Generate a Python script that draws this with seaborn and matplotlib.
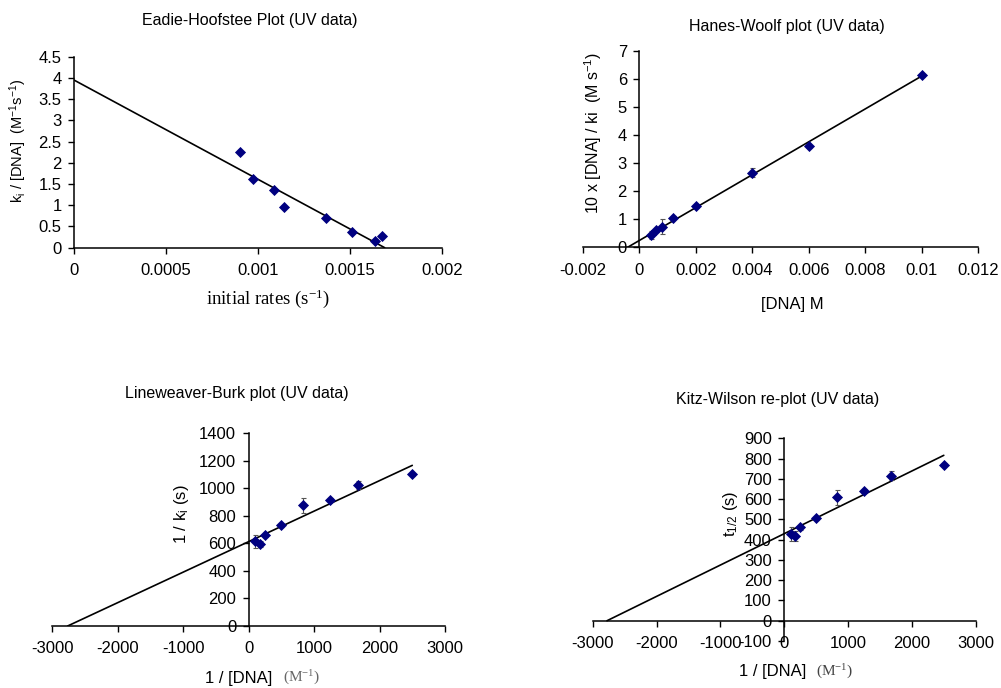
import numpy as np
import pandas as pd
import matplotlib
matplotlib.use("Agg")
import matplotlib.pyplot as plt
import seaborn as sns
from matplotlib.ticker import FuncFormatter, MultipleLocator

# ---------------- data ----------------
# Eadie-Hofstee
eh_rate = [0.000903, 0.000972, 0.001088, 0.001140, 0.001369, 0.001510, 0.001636, 0.001675]
eh_ratio = [2.26, 1.62, 1.36, 0.95, 0.69, 0.37, 0.165, 0.275]
eh_trend_x = [0.0, 0.00169]
eh_trend_y = [3.95, 0.0]

# Hanes-Woolf
hw_dna = [0.0004, 0.0006, 0.0008, 0.0012, 0.002, 0.004, 0.006, 0.01]
hw_val = [0.44, 0.62, 0.73, 1.06, 1.47, 2.66, 3.59, 6.12]
hw_err = [0.15, 0.06, 0.26, 0.06, 0.08, 0.15, 0.06, 0.05]
hw_trend_x = [-0.00042, 0.01]
hw_trend_y = [0.0, 6.1]

# Lineweaver-Burk
lb_inv = [2500, 1667, 1250, 833, 500, 250, 167, 100]
lb_val = [1102, 1024, 918, 877, 731, 664, 596, 615]
lb_err = [10, 30, 15, 54, 12, 15, 25, 48]
lb_trend_x = [-2766, 2500]
lb_trend_y = [0, 1167]

# Kitz-Wilson
kw_inv = [2500, 1667, 1250, 833, 500, 250, 167, 100]
kw_val = [770, 715, 638, 608, 508, 460, 419, 428]
kw_err = [8, 22, 10, 37, 10, 10, 25, 36]
kw_trend_x = [-2776, 2500]
kw_trend_y = [0, 816]

# ---------------- style ----------------
sns.set_style("ticks")
plt.rcParams["font.family"] = ["Liberation Sans", "DejaVu Sans"]
plt.rcParams["mathtext.default"] = "regular"
plt.rcParams["axes.linewidth"] = 1.0

W, H = 1001, 688
fig = plt.figure(figsize=(W / 100, H / 100), dpi=100)
fig.patch.set_facecolor("white")

MARK = "#000080"
ERRC = "#555555"
fmt = FuncFormatter(lambda v, p: f"{v:g}")


def px(x, y):
    return x / W, 1 - y / H


def make_ax(l, r, b, t):
    # pixel coords -> fig fractions
    return fig.add_axes([l / W, 1 - b / H, (r - l) / W, (b - t) / H])


def style(ax, xlim, ylim, xstep, ystep):
    ax.set_xlim(*xlim)
    ax.set_ylim(*ylim)
    ax.xaxis.set_major_locator(MultipleLocator(xstep))
    ax.yaxis.set_major_locator(MultipleLocator(ystep))
    ax.xaxis.set_major_formatter(fmt)
    ax.yaxis.set_major_formatter(fmt)
    ax.spines["top"].set_visible(False)
    ax.spines["right"].set_visible(False)
    ax.spines["left"].set_position(("data", 0))
    ax.spines["bottom"].set_position(("data", 0))
    for s in ("left", "bottom"):
        ax.spines[s].set_color("black")
        ax.spines[s].set_linewidth(1.1)
    ax.tick_params(axis="x", direction="out", length=4, width=1, pad=7,
                   labelsize=12, colors="black")
    ax.tick_params(axis="y", direction="out", length=4, width=1, pad=5,
                   labelsize=12, colors="black")
    ax.set_facecolor("none")
    ax.set_xlabel("")
    ax.set_ylabel("")


def draw(ax, x, y, tx, ty, err=None):
    sns.lineplot(x=tx, y=ty, ax=ax, color="black", linewidth=1.2,
                 estimator=None, sort=False, zorder=2)
    if err is not None:
        ax.errorbar(x, y, yerr=err, fmt="none", ecolor=ERRC, elinewidth=0.8,
                    capsize=1.8, capthick=0.8, zorder=3)
    sns.scatterplot(x=x, y=y, ax=ax, marker="D", s=32, color=MARK,
                    edgecolor=MARK, linewidth=0, zorder=4)


# Panel 1: Eadie-Hofstee
ax1 = make_ax(74, 441.7, 247.7, 56.7)
draw(ax1, eh_rate, eh_ratio, eh_trend_x, eh_trend_y)
style(ax1, (0, 0.002), (0, 4.5), 0.0005, 0.5)

# Panel 2: Hanes-Woolf
ax2 = make_ax(583, 978.3, 247.3, 50.7)
draw(ax2, hw_dna, hw_val, hw_trend_x, hw_trend_y, hw_err)
style(ax2, (-0.002, 0.012), (0, 7), 0.002, 1)

# Panel 3: Lineweaver-Burk
ax3 = make_ax(52.3, 445, 626, 433.3)
draw(ax3, lb_inv, lb_val, lb_trend_x, lb_trend_y, lb_err)
style(ax3, (-3000, 3000), (0, 1400), 1000, 200)

# Panel 4: Kitz-Wilson
ax4 = make_ax(592.7, 975.7, 641, 438.3)
draw(ax4, kw_inv, kw_val, kw_trend_x, kw_trend_y, kw_err)
style(ax4, (-3000, 3000), (-100, 900), 1000, 100)

# ---------------- titles & labels ----------------
SANS = ["Liberation Sans", "DejaVu Sans"]
SERIF = ["Liberation Serif", "DejaVu Serif"]

def t(x, y, s, size=12, family=SANS, ha="center", rot=0, color="black"):
    fig.text(*px(x, y), s, ha=ha, va="center", fontsize=size, family=family,
             rotation=rot, color=color)

t(250, 21, "Eadie-Hoofstee Plot (UV data)", 11.5)
t(786.7, 27, "Hanes-Woolf plot (UV data)", 11.5)
t(236.7, 393.3, "Lineweaver-Burk plot (UV data)", 11.5)
t(778, 399.3, "Kitz-Wilson re-plot (UV data)", 11.5)

t(268, 299, "initial rates (s$^{-1}$)", 13.5, SERIF)
t(792, 304, "[DNA] M", 12)
t(272, 678, "1 / [DNA]", 12, ha="right")
t(283, 678, "(M$^{-1}$)", 11, SERIF, ha="left", color="#666666")
t(806, 671.7, "1 / [DNA]", 12, ha="right")
t(816, 671.7, "(M$^{-1}$)", 11, SERIF, ha="left", color="#444444")

t(18.3, 140.5, "k$_{i}$ / [DNA]  (M$^{-1}$s$^{-1}$)", 10.5, rot=90)
t(593.3, 133, "10 x [DNA] / ki  (M s$^{-1}$)", 11.5, rot=90)
t(181.7, 514, "1 / k$_{i}$ (s)", 12, rot=90)
t(730, 514, "t$_{1/2}$ (s)", 12, rot=90)

fig.savefig("out.png", dpi=100, facecolor="white")
